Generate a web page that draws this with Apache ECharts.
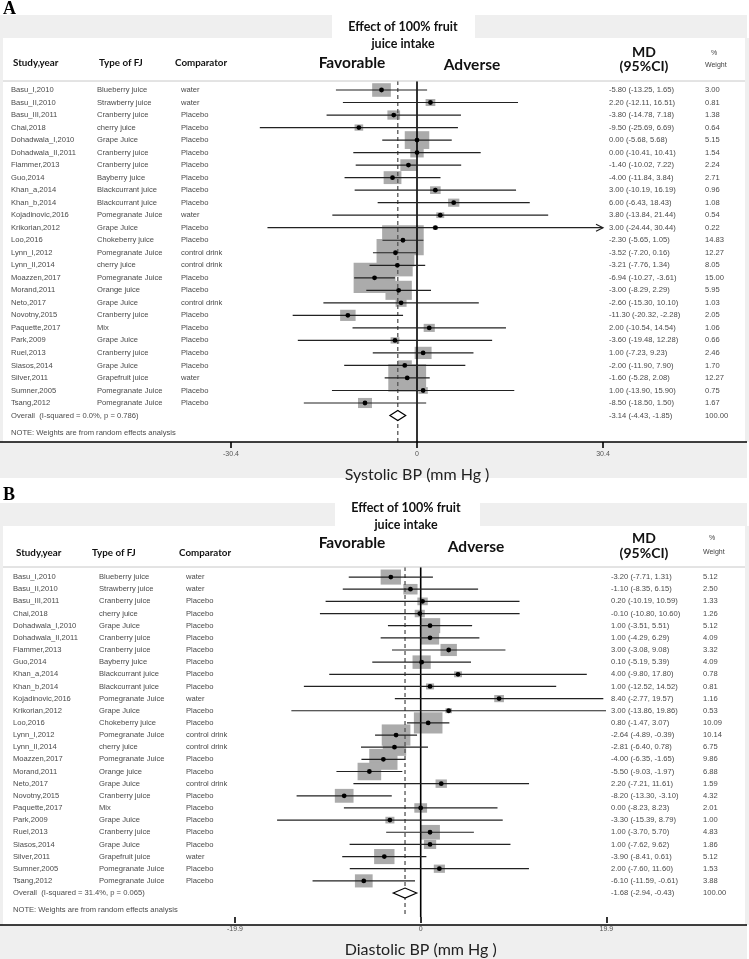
<!DOCTYPE html>
<html><head><meta charset="utf-8">
<script src="https://cdn.jsdelivr.net/npm/echarts@6/dist/echarts.min.js"></script>
<style>html,body{margin:0;padding:0;background:#fff}#c{width:749px;height:959px}</style>
</head><body><div id="c"></div>
<script>
// ---------------- DATA ----------------
const studies = ['Basu_I,2010','Basu_II,2010','Basu_III,2011','Chai,2018','Dohadwala_I,2010','Dohadwala_II,2011','Flammer,2013','Guo,2014','Khan_a,2014','Khan_b,2014','Kojadinovic,2016','Krikorian,2012','Loo,2016','Lynn_I,2012','Lynn_II,2014','Moazzen,2017','Morand,2011','Neto,2017','Novotny,2015','Paquette,2017','Park,2009','Ruel,2013','Siasos,2014','Silver,2011','Sumner,2005','Tsang,2012'];
const fjTypes = ['Blueberry juice','Strawberry juice','Cranberry juice','cherry juice','Grape Juice','Cranberry juice','Cranberry juice','Bayberry juice','Blackcurrant juice','Blackcurrant juice','Pomegranate Juice','Grape Juice','Chokeberry juice','Pomegranate Juice','cherry juice','Pomegranate Juice','Orange juice','Grape Juice','Cranberry juice','Mix','Grape Juice','Cranberry juice','Grape Juice','Grapefruit juice','Pomegranate Juice','Pomegranate Juice'];
const comparators = ['water','water','Placebo','Placebo','Placebo','Placebo','Placebo','Placebo','Placebo','Placebo','water','Placebo','Placebo','control drink','control drink','Placebo','Placebo','control drink','Placebo','Placebo','Placebo','Placebo','Placebo','water','Placebo','Placebo'];

const sbpMD = [-5.80,2.20,-3.80,-9.50,0.00,0.00,-1.40,-4.00,3.00,6.00,3.80,3.00,-2.30,-3.52,-3.21,-6.94,-3.00,-2.60,-11.30,2.00,-3.60,1.00,-2.00,-1.60,1.00,-8.50];
const sbpLo = [-13.25,-12.11,-14.78,-25.69,-5.68,-10.41,-10.02,-11.84,-10.19,-6.43,-13.84,-24.44,-5.65,-7.20,-7.76,-10.27,-8.29,-15.30,-20.32,-10.54,-19.48,-7.23,-11.90,-5.28,-13.90,-18.50];
const sbpHi = [1.65,16.51,7.18,6.69,5.68,10.41,7.22,3.84,16.19,18.43,21.44,30.44,1.05,0.16,1.34,-3.61,2.29,10.10,-2.28,14.54,12.28,9.23,7.90,2.08,15.90,1.50];
const sbpW = [3.00,0.81,1.38,0.64,5.15,1.54,2.24,2.71,0.96,1.08,0.54,0.22,14.83,12.27,8.05,15.00,5.95,1.03,2.05,1.06,0.66,2.46,1.70,12.27,0.75,1.67];
const sbpOverall = [-3.14,-4.43,-1.85,100.00];
const sbpOverallLabel = 'Overall  (I-squared = 0.0%, p = 0.786)';
const sbpTicks = [-30.4, 0, 30.4];

const dbpMD = [-3.20,-1.10,0.20,-0.10,1.00,1.00,3.00,0.10,4.00,1.00,8.40,3.00,0.80,-2.64,-2.81,-4.00,-5.50,2.20,-8.20,0.00,-3.30,1.00,1.00,-3.90,2.00,-6.10];
const dbpLo = [-7.71,-8.35,-10.19,-10.80,-3.51,-4.29,-3.08,-5.19,-9.80,-12.52,-2.77,-13.86,-1.47,-4.89,-6.40,-6.35,-9.03,-7.21,-13.30,-8.23,-15.39,-3.70,-7.62,-8.41,-7.60,-11.59];
const dbpHi = [1.31,6.15,10.59,10.60,5.51,6.29,9.08,5.39,17.80,14.52,19.57,19.86,3.07,-0.39,0.78,-1.65,-1.97,11.61,-3.10,8.23,8.79,5.70,9.62,0.61,11.60,-0.61];
const dbpW = [5.12,2.50,1.33,1.26,5.12,4.09,3.32,4.09,0.78,0.81,1.16,0.53,10.09,10.14,6.75,9.86,6.88,1.59,4.32,2.01,1.00,4.83,1.86,5.12,1.53,3.88];
const dbpOverall = [-1.68,-2.94,-0.43,100.00];
const dbpOverallLabel = 'Overall  (I-squared = 31.4%, p = 0.065)';
const dbpTicks = [-19.9, 0, 19.9];

const titleLines = ['Effect of 100% fruit', 'juice intake'];
const noteText = 'NOTE: Weights are from random effects analysis';

// ---------------- LAYOUT ----------------
const panels = [
  {label:'A', md:sbpMD, lo:sbpLo, hi:sbpHi, w:sbpW, ov:sbpOverall, ovLabel:sbpOverallLabel, ticks:sbpTicks, axisName:'Systolic BP (mm Hg )',
   xL:231, xR:603, headY:81, axisY:442, row0:90, step:12.52, boxK:10.8, boxR:1.38,
   labelY:9, bandY:15, bandH:23, bandL:332, bandR:475, titleX:403, titleY:[27,44],
   hdrY:63, favY:63, advY:65, favX:352, advX:472, mdY:[52,66], wY:[53,65],
   colX:[11,97,181,609,705], hdrX:[13,99,175], bottomH:36},
  {label:'B', md:dbpMD, lo:dbpLo, hi:dbpHi, w:dbpW, ov:dbpOverall, ovLabel:dbpOverallLabel, ticks:dbpTicks, axisName:'Diastolic BP (mm Hg )',
   xL:235, xR:606.4, headY:567, axisY:925, row0:577.3, step:12.43, boxK:9.0, boxR:1.35,
   labelY:495, bandY:503, bandH:23, bandL:335, bandR:480, titleX:406, titleY:[508,525],
   hdrY:553, favY:543, advY:547, favX:352, advX:476, mdY:[538,553], wY:[538,552],
   colX:[13,99,186,611,703], hdrX:[16,92,179], bottomH:34}
];

const grids = [], xAxes = [], yAxes = [], series = [], graphics = [];
const GREY = '#efefef';
const rowFont = '7.6px "Liberation Sans", Arial, sans-serif';
const rowColor = '#4a4a4a';
const hdrFont = 'bold 9.8px Lato, "Open Sans", sans-serif';

panels.forEach((p, gi) => {
  const yMin = -(p.row0 - p.headY) / p.step;
  const yMax = (p.axisY - p.row0) / p.step;
  const xmin = p.ticks[0], xmax = p.ticks[p.ticks.length - 1];
  grids.push({left:p.xL, width:p.xR - p.xL, top:p.headY, height:p.axisY - p.headY});
  xAxes.push({type:'value', gridIndex:gi, position:'bottom', min:xmin, max:xmax, interval:xmax,
    axisLine:{show:false, onZero:false}, splitLine:{show:false},
    axisTick:{show:true, length:6, lineStyle:{color:'#000', width:1.6}},
    axisLabel:{show:true, color:'#555', fontSize:7, margin:9, fontFamily:'"Liberation Sans", Arial',
      formatter: v => (Math.abs(v) < 1e-9 ? '0' : String(v))},
    name:p.axisName, nameLocation:'middle', nameGap:25,
    nameTextStyle:{fontSize:16, color:'#222', fontFamily:'Lato, "Open Sans", sans-serif'}});
  yAxes.push({type:'value', gridIndex:gi, inverse:true, min:yMin, max:yMax, show:false});

  const nRows = studies.length;
  const fData = p.md.map((m, i) => [i, m, p.lo[i], p.hi[i], p.w[i]]);

  // boxes
  series.push({type:'custom', xAxisIndex:gi, yAxisIndex:gi, z:2, clip:false, data:fData,
    renderItem:(params, api) => {
      const c = api.coord([api.value(1), api.value(0)]);
      const bw = p.boxK * Math.sqrt(api.value(4)), bh = bw / p.boxR;
      return {type:'rect', shape:{x:c[0]-bw/2, y:c[1]-bh/2, width:bw, height:bh}, style:{fill:'#ababab'}};
    }});
  // reference lines: zero + overall dashed
  series.push({type:'custom', xAxisIndex:gi, yAxisIndex:gi, z:3, clip:false, data:[[0, 0], [p.ov[0], 1]],
    renderItem:(params, api) => {
      const a = api.coord([api.value(0), yMin]), b = api.coord([api.value(0), yMax]);
      const dashed = api.value(1) === 1;
      return {type:'line', shape:{x1:a[0], y1:a[1], x2:b[0], y2:b[1]},
        style:{stroke: dashed ? '#555' : '#000', lineWidth: dashed ? 1.3 : 1.6, lineDash: dashed ? [4,3] : null}};
    }});
  // CI lines + point estimates
  series.push({type:'custom', xAxisIndex:gi, yAxisIndex:gi, z:4, clip:false, data:fData,
    renderItem:(params, api) => {
      const row = api.value(0), m = api.value(1), lo = api.value(2), hi = api.value(3);
      const c = api.coord([m, row]);
      const l = api.coord([Math.max(lo, xmin), row]), h = api.coord([Math.min(hi, xmax), row]);
      const ch = [
        {type:'line', shape:{x1:l[0], y1:l[1], x2:h[0], y2:h[1]}, style:{stroke:'#222', lineWidth:1.2}},
        {type:'circle', shape:{cx:c[0], cy:c[1], r:2.4}, style:{fill:'#000'}}
      ];
      if (hi > xmax) ch.push({type:'polyline', shape:{points:[[h[0]-7, h[1]-3.5],[h[0], h[1]],[h[0]-7, h[1]+3.5]]}, style:{stroke:'#222', fill:null, lineWidth:1.2}});
      if (lo < xmin) ch.push({type:'polyline', shape:{points:[[l[0]+7, l[1]-3.5],[l[0], l[1]],[l[0]+7, l[1]+3.5]]}, style:{stroke:'#222', fill:null, lineWidth:1.2}});
      return {type:'group', children:ch};
    }});
  // overall diamond
  series.push({type:'custom', xAxisIndex:gi, yAxisIndex:gi, z:5, clip:false, data:[[nRows, p.ov[0], p.ov[1], p.ov[2]]],
    renderItem:(params, api) => {
      const row = api.value(0);
      const c = api.coord([api.value(1), row]), l = api.coord([api.value(2), row]), h = api.coord([api.value(3), row]);
      return {type:'polygon', shape:{points:[[l[0], c[1]], [c[0], c[1]-5], [h[0], c[1]], [c[0], c[1]+5]]},
        style:{fill:'#fff', stroke:'#000', lineWidth:1.2}};
    }});
  // table text columns
  const tData = studies.map((s, i) => [0, i]);
  series.push({type:'custom', xAxisIndex:gi, yAxisIndex:gi, z:6, clip:false, data:tData,
    renderItem:(params, api) => {
      const i = params.dataIndex;
      const y = api.coord([0, api.value(1)])[1];
      const vals = [studies[i], fjTypes[i], comparators[i],
        p.md[i].toFixed(2) + ' (' + p.lo[i].toFixed(2) + ', ' + p.hi[i].toFixed(2) + ')', p.w[i].toFixed(2)];
      return {type:'group', children: vals.map((t, k) => ({type:'text', x:p.colX[k], y:y,
        style:{text:t, font:rowFont, fill:rowColor, align:'left', verticalAlign:'middle'}}))};
    }});
  // overall + note rows
  series.push({type:'custom', xAxisIndex:gi, yAxisIndex:gi, z:6, clip:false,
    data:[[0, nRows, 0], [0, nRows + 1.4, 1]],
    renderItem:(params, api) => {
      const y = api.coord([0, api.value(1)])[1];
      if (api.value(2) === 1) {
        return {type:'text', x:p.colX[0], y:y, style:{text:noteText, font:rowFont, fill:rowColor, verticalAlign:'middle'}};
      }
      return {type:'group', children:[
        {type:'text', x:p.colX[0], y:y, style:{text:p.ovLabel, font:rowFont, fill:rowColor, verticalAlign:'middle'}},
        {type:'text', x:p.colX[3], y:y, style:{text:p.ov[0].toFixed(2) + ' (' + p.ov[1].toFixed(2) + ', ' + p.ov[2].toFixed(2) + ')', font:rowFont, fill:rowColor, verticalAlign:'middle'}},
        {type:'text', x:p.colX[4], y:y, style:{text:p.ov[3].toFixed(2), font:rowFont, fill:rowColor, verticalAlign:'middle'}}
      ]};
    }});

  // decorations
  graphics.push(
    {type:'rect', z:-10, shape:{x:0, y:p.bandY, width:p.bandL, height:p.bandH}, style:{fill:GREY}},
    {type:'rect', z:-10, shape:{x:p.bandR, y:p.bandY, width:747 - p.bandR, height:p.bandH}, style:{fill:GREY}},
    {type:'rect', z:-10, shape:{x:0, y:p.bandY + p.bandH, width:3, height:p.axisY - p.bandY - p.bandH}, style:{fill:GREY}},
    {type:'rect', z:-10, shape:{x:745, y:p.bandY + p.bandH, width:4, height:p.axisY - p.bandY - p.bandH}, style:{fill:GREY}},
    {type:'rect', z:-10, shape:{x:0, y:p.axisY, width:747, height:p.bottomH}, style:{fill:GREY}},
    {type:'line', z:10, shape:{x1:0, y1:p.axisY, x2:747, y2:p.axisY}, style:{stroke:'#000', lineWidth:1.3}},
    {type:'line', z:10, shape:{x1:3, y1:p.headY, x2:745, y2:p.headY}, style:{stroke:'#c8c8c8', lineWidth:1}},
    {type:'text', x:3, y:p.labelY, style:{text:p.label, font:'bold 18px "Liberation Serif", "DejaVu Serif", serif', fill:'#000', verticalAlign:'middle'}},
    {type:'text', x:p.titleX, y:p.titleY[0], style:{text:titleLines[0], font:'bold 12.5px Lato, "Open Sans", sans-serif', fill:'#111', align:'center', verticalAlign:'middle'}},
    {type:'text', x:p.titleX, y:p.titleY[1], style:{text:titleLines[1], font:'bold 12.5px Lato, "Open Sans", sans-serif', fill:'#111', align:'center', verticalAlign:'middle'}},
    {type:'text', x:p.hdrX[0], y:p.hdrY, style:{text:'Study,year', font:hdrFont, fill:'#111', verticalAlign:'middle'}},
    {type:'text', x:p.hdrX[1], y:p.hdrY, style:{text:'Type of FJ', font:hdrFont, fill:'#111', verticalAlign:'middle'}},
    {type:'text', x:p.hdrX[2], y:p.hdrY, style:{text:'Comparator', font:hdrFont, fill:'#111', verticalAlign:'middle'}},
    {type:'text', x:p.favX, y:p.favY, style:{text:'Favorable', font:'bold 15.5px Lato, "Open Sans", sans-serif', fill:'#111', align:'center', verticalAlign:'middle'}},
    {type:'text', x:p.advX, y:p.advY, style:{text:'Adverse', font:'bold 15.5px Lato, "Open Sans", sans-serif', fill:'#111', align:'center', verticalAlign:'middle'}},
    {type:'text', x:644, y:p.mdY[0], style:{text:'MD', font:'bold 14px Lato, "Open Sans", sans-serif', fill:'#111', align:'center', verticalAlign:'middle'}},
    {type:'text', x:644, y:p.mdY[1], style:{text:'(95%CI)', font:'bold 14px Lato, "Open Sans", sans-serif', fill:'#111', align:'center', verticalAlign:'middle'}},
    {type:'text', x:p.colX[4] + 6, y:p.wY[0], style:{text:'%', font:'7px "Liberation Sans", Arial', fill:'#444', verticalAlign:'middle'}},
    {type:'text', x:p.colX[4], y:p.wY[1], style:{text:'Weight', font:'7px "Liberation Sans", Arial', fill:'#444', verticalAlign:'middle'}}
  );
});

const chart = echarts.init(document.getElementById('c'), null, {renderer:'canvas'});
chart.setOption({animation:false, backgroundColor:'#fff', grid:grids, xAxis:xAxes, yAxis:yAxes, series:series, graphic:graphics});
</script></body></html>
